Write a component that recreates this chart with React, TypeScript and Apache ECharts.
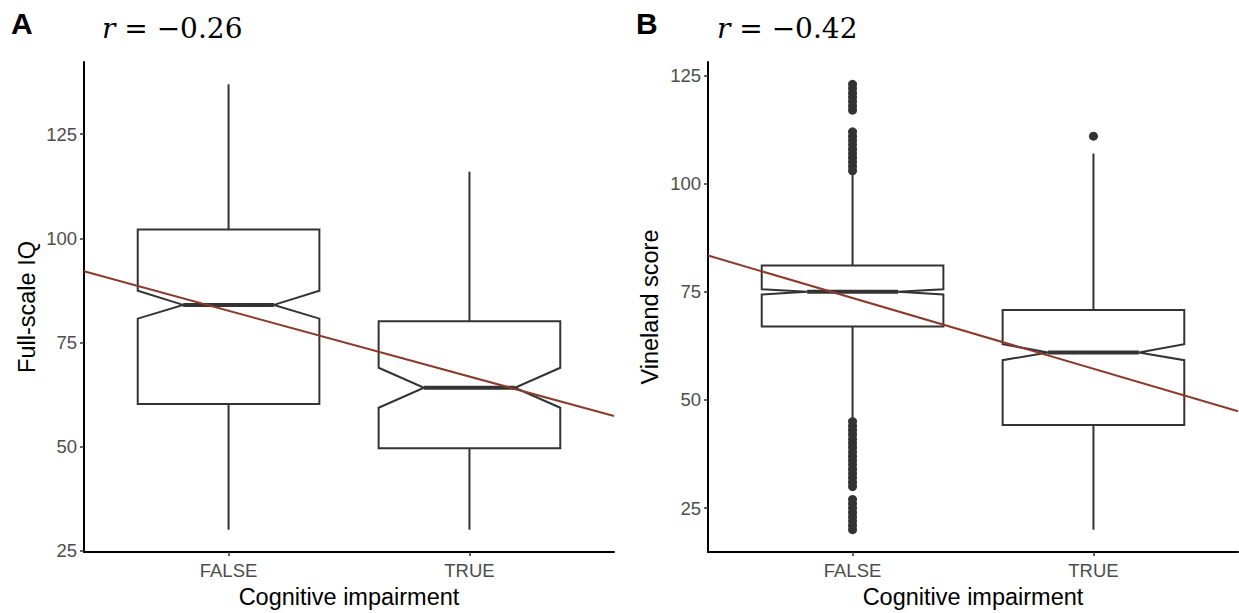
import React, { useEffect, useRef } from "react";
import * as echarts from "echarts";

// ---- Data ----
const categories = ["FALSE", "TRUE"];
// [x, lowerWhisker, q1, notchLow, median, notchHigh, q3, upperWhisker]
const boxesA = [
  [1, 30, 60.2, 80.7, 84.0, 87.4, 102.1, 137],
  [2, 30, 49.6, 59.3, 64.1, 68.9, 80.1, 116],
];
const boxesB = [
  [1, 46, 67.0, 74.4, 75.0, 75.6, 81.1, 102],
  [2, 20, 44.2, 59.2, 61.0, 62.9, 70.8, 107],
];
const outliersFalseB = [
  103, 104, 105, 106, 107, 108, 109, 110, 111, 112, 117, 118, 119, 120, 121, 122, 123,
  20, 21, 22, 23, 24, 25, 26, 27, 30, 31, 32, 33, 34, 35, 36, 37, 38, 39, 40, 41, 42, 43, 44, 45,
];
const outliersTrueB = [111];
const fitA = [[0.4, 92.1], [2.6, 57.3]];
const fitB = [[0.4, 83.4], [2.6, 47.4]];
const yTicks = [25, 50, 75, 100, 125];
const rA = "−0.26";
const rB = "−0.42";

const FONT = "Liberation Sans, Arial, sans-serif";
const INK = "#333333";
const FIT = "#8b3a2c";

function boxRender(params: any, api: any) {
  const x = api.value(0);
  const lw = api.value(1), q1 = api.value(2), nl = api.value(3), med = api.value(4);
  const nh = api.value(5), q3 = api.value(6), hw = api.value(7);
  const hwid = 0.377;
  const p = (xx: number, yy: number) => api.coord([xx, yy]);
  const pts = [
    p(x - hwid, q1), p(x - hwid, nl), p(x - hwid / 2, med), p(x - hwid, nh), p(x - hwid, q3),
    p(x + hwid, q3), p(x + hwid, nh), p(x + hwid / 2, med), p(x + hwid, nl), p(x + hwid, q1),
  ];
  const c = p(x, 0);
  const lineStyle = { stroke: INK, lineWidth: 2, fill: null };
  return {
    type: "group",
    children: [
      { type: "line", shape: { x1: c[0], y1: p(x, q3)[1], x2: c[0], y2: p(x, hw)[1] }, style: lineStyle },
      { type: "line", shape: { x1: c[0], y1: p(x, q1)[1], x2: c[0], y2: p(x, lw)[1] }, style: lineStyle },
      { type: "polygon", shape: { points: pts }, style: { stroke: INK, lineWidth: 2, fill: "#ffffff" } },
      {
        type: "line",
        shape: { x1: p(x - hwid / 2, med)[0], y1: p(x, med)[1], x2: p(x + hwid / 2, med)[0], y2: p(x, med)[1] },
        style: { stroke: INK, lineWidth: 4 },
      },
    ],
  };
}

function xAxisCfg(gi: number) {
  return {
    type: "value",
    gridIndex: gi,
    min: 0.4,
    max: 2.6,
    splitLine: { show: false },
    axisLine: { show: true, onZero: false, lineStyle: { color: "#000", width: 2 } },
    axisTick: { show: true, length: 4, customValues: [1, 2], lineStyle: { color: INK, width: 1.5 } },
    axisLabel: {
      customValues: [1, 2],
      formatter: (v: number) => categories[Math.round(v) - 1],
      color: "#4d4d4d",
      fontSize: 18.5,
      fontFamily: FONT,
      margin: 9,
    },
  };
}

function yAxisCfg(gi: number, min: number, max: number) {
  return {
    type: "value",
    gridIndex: gi,
    min,
    max,
    splitLine: { show: false },
    axisLine: { show: true, onZero: false, lineStyle: { color: "#000", width: 2 } },
    axisTick: { show: true, length: 4, customValues: yTicks, lineStyle: { color: INK, width: 1.5 } },
    axisLabel: {
      customValues: yTicks,
      color: "#4d4d4d",
      fontSize: 18.5,
      fontFamily: FONT,
      margin: 7,
    },
  };
}

export default function App() {
  const ref = useRef<HTMLDivElement>(null);
  useEffect(() => {
    if (!ref.current) return;
    const chart = echarts.init(ref.current, undefined, { renderer: "svg" });
    const option: any = {
      animation: false,
      backgroundColor: "#ffffff",
      grid: [
        { left: 84, right: 625, top: 62, bottom: 61 },
        { left: 708, right: 1, top: 62, bottom: 61 },
      ],
      xAxis: [xAxisCfg(0), xAxisCfg(1)],
      yAxis: [yAxisCfg(0, 24.65, 142.35), yAxisCfg(1, 14.85, 128.15)],
      series: [
        {
          type: "custom", xAxisIndex: 0, yAxisIndex: 0, renderItem: boxRender, data: boxesA,
          encode: { x: 0, y: [1, 7] }, z: 2,
        },
        {
          type: "custom", xAxisIndex: 1, yAxisIndex: 1, renderItem: boxRender, data: boxesB,
          encode: { x: 0, y: [1, 7] }, z: 2,
        },
        {
          type: "scatter", xAxisIndex: 1, yAxisIndex: 1, symbolSize: 9,
          itemStyle: { color: INK, opacity: 1 },
          data: [
            ...outliersFalseB.map((v) => [1, v]),
            ...outliersTrueB.map((v) => [2, v]),
          ],
          z: 3,
        },
        {
          type: "line", xAxisIndex: 0, yAxisIndex: 0, data: fitA, showSymbol: false,
          lineStyle: { color: FIT, width: 2 }, z: 4,
        },
        {
          type: "line", xAxisIndex: 1, yAxisIndex: 1, data: fitB, showSymbol: false,
          lineStyle: { color: FIT, width: 2 }, z: 4,
        },
      ],
      graphic: [
        { type: "text", x: 11, y: 8, style: { text: "A", font: `bold 30px ${FONT}`, fill: "#000" } },
        { type: "text", x: 636, y: 8, style: { text: "B", font: `bold 30px ${FONT}`, fill: "#000" } },
        {
          type: "text", x: 102, y: 14,
          style: {
            text: `{i|r} = ${rA}`,
            font: "28px DejaVu Serif", fill: "#000",
            rich: { i: { fontStyle: "italic", fontFamily: "DejaVu Serif", fontSize: 28 } },
          },
        },
        {
          type: "text", x: 717, y: 14,
          style: {
            text: `{i|r} = ${rB}`,
            font: "28px DejaVu Serif", fill: "#000",
            rich: { i: { fontStyle: "italic", fontFamily: "DejaVu Serif", fontSize: 28 } },
          },
        },
        {
          type: "text", x: 349, y: 597,
          style: { text: "Cognitive impairment", font: `23.5px ${FONT}`, fill: "#000", align: "center", verticalAlign: "middle" },
        },
        {
          type: "text", x: 973, y: 597,
          style: { text: "Cognitive impairment", font: `23.5px ${FONT}`, fill: "#000", align: "center", verticalAlign: "middle" },
        },
        {
          type: "text", x: 27, y: 307, rotation: Math.PI / 2,
          style: { text: "Full-scale IQ", font: `23.5px ${FONT}`, fill: "#000", align: "center", verticalAlign: "middle" },
        },
        {
          type: "text", x: 650, y: 307, rotation: Math.PI / 2,
          style: { text: "Vineland score", font: `23.5px ${FONT}`, fill: "#000", align: "center", verticalAlign: "middle" },
        },
      ],
    };
    chart.setOption(option);
    return () => chart.dispose();
  }, []);
  return (
    <div
      ref={ref}
      style={{ position: "absolute", left: 0, top: 0, width: 1239, height: 613, background: "#fff" }}
    />
  );
}
